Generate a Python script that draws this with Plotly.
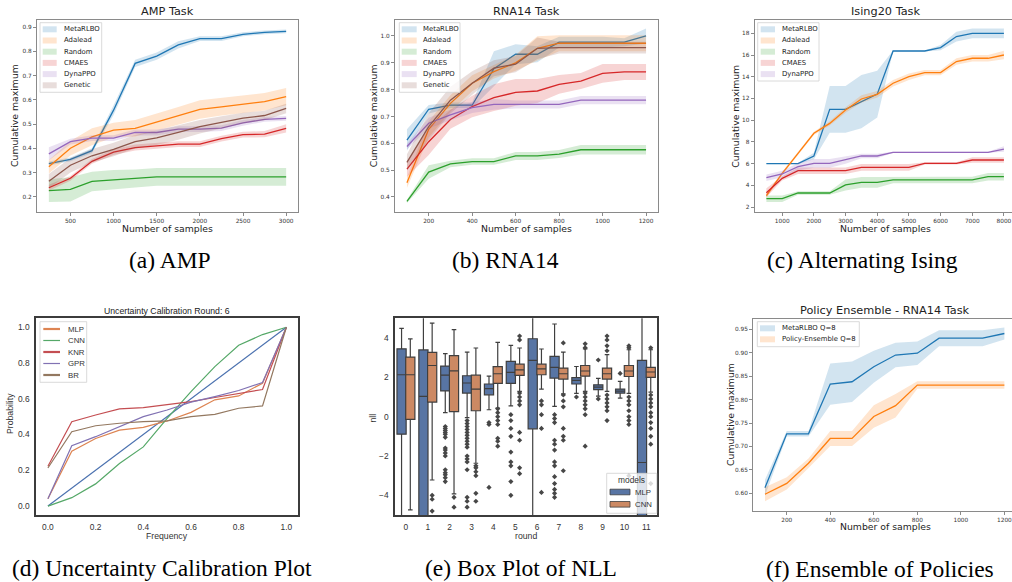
import plotly.graph_objects as go

W, H = 1012, 582

# ---------------- data ----------------
# (a) AMP task
amp_x = [250, 500, 750, 1000, 1250, 1500, 1750, 2000, 2250, 2500, 2750, 3000]
amp_metarlbo = [0.337, 0.354, 0.39, 0.557, 0.75, 0.78, 0.826, 0.852, 0.852, 0.87, 0.878, 0.882]
amp_metarlbo_sd = [0.008, 0.008, 0.01, 0.02, 0.015, 0.015, 0.015, 0.01, 0.01, 0.008, 0.008, 0.008]
amp_adalead = [0.324, 0.40, 0.447, 0.475, 0.482, 0.507, 0.534, 0.56, 0.571, 0.582, 0.592, 0.613]
amp_adalead_sd = [0.028, 0.03, 0.035, 0.03, 0.034, 0.035, 0.036, 0.038, 0.036, 0.036, 0.036, 0.036]
amp_random = [0.225, 0.23, 0.263, 0.27, 0.275, 0.282, 0.282, 0.282, 0.282, 0.282, 0.282, 0.282]
amp_random_sd = [0.047, 0.05, 0.04, 0.04, 0.037, 0.037, 0.037, 0.037, 0.037, 0.037, 0.037, 0.037]
amp_cmaes = [0.237, 0.276, 0.346, 0.384, 0.403, 0.41, 0.417, 0.417, 0.44, 0.456, 0.458, 0.482]
amp_cmaes_sd = [0.012, 0.01, 0.01, 0.012, 0.012, 0.012, 0.012, 0.012, 0.012, 0.012, 0.013, 0.017]
amp_dynappo = [0.377, 0.427, 0.442, 0.442, 0.465, 0.465, 0.479, 0.479, 0.483, 0.505, 0.519, 0.523]
amp_dynappo_sd = [0.027, 0.012, 0.012, 0.012, 0.012, 0.012, 0.012, 0.012, 0.012, 0.012, 0.01, 0.01]
amp_genetic = [0.264, 0.33, 0.369, 0.395, 0.427, 0.443, 0.465, 0.489, 0.507, 0.524, 0.535, 0.564]
amp_genetic_sd = [0.03, 0.03, 0.028, 0.028, 0.028, 0.03, 0.03, 0.028, 0.025, 0.022, 0.02, 0.02]

# (b) RNA14 task
rna_x = [100, 200, 300, 400, 500, 600, 700, 800, 900, 1000, 1100, 1200]
rna_metarlbo = [0.612, 0.727, 0.742, 0.742, 0.878, 0.932, 0.932, 0.977, 0.977, 0.977, 0.977, 1.0]
rna_metarlbo_sd = [0.04, 0.016, 0.01, 0.01, 0.065, 0.037, 0.03, 0.02, 0.02, 0.02, 0.015, 0.028]
rna_adalead = [0.453, 0.652, 0.749, 0.824, 0.867, 0.9, 0.954, 0.973, 0.973, 0.973, 0.973, 0.973]
rna_adalead_sd = [0.02, 0.03, 0.03, 0.03, 0.025, 0.03, 0.045, 0.03, 0.03, 0.03, 0.03, 0.03]
rna_random = [0.384, 0.493, 0.523, 0.532, 0.532, 0.553, 0.553, 0.56, 0.576, 0.576, 0.576, 0.576]
rna_random_sd = [0.006, 0.025, 0.012, 0.012, 0.012, 0.015, 0.015, 0.015, 0.018, 0.018, 0.018, 0.018]
rna_cmaes = [0.504, 0.606, 0.689, 0.737, 0.77, 0.79, 0.795, 0.82, 0.832, 0.861, 0.866, 0.866]
rna_cmaes_sd = [0.03, 0.05, 0.035, 0.04, 0.05, 0.05, 0.045, 0.035, 0.03, 0.035, 0.03, 0.03]
rna_dynappo = [0.588, 0.675, 0.706, 0.733, 0.745, 0.745, 0.745, 0.745, 0.761, 0.761, 0.761, 0.761]
rna_dynappo_sd = [0.01, 0.02, 0.02, 0.02, 0.02, 0.015, 0.015, 0.015, 0.015, 0.015, 0.015, 0.015]
rna_genetic = [0.529, 0.662, 0.761, 0.824, 0.88, 0.895, 0.954, 0.957, 0.957, 0.957, 0.957, 0.957]
rna_genetic_sd = [0.03, 0.05, 0.05, 0.045, 0.03, 0.03, 0.04, 0.022, 0.022, 0.022, 0.022, 0.022]

# (c) Ising20 task
ising_x = [500, 1000, 1500, 2000, 2500, 3000, 3500, 4000, 4500, 5000, 5500, 6000, 6500, 7000, 7500, 8000]
ising_metarlbo = [6.0, 6.0, 6.0, 6.7, 11.0, 11.0, 11.7, 12.4, 16.37, 16.37, 16.37, 16.68, 17.7, 18.0, 18.0, 18.0]
ising_metarlbo_sd = [0.05, 0.05, 0.05, 0.3, 2.15, 2.15, 2.45, 2.15, 0.05, 0.05, 0.05, 0.25, 0.45, 0.45, 0.45, 0.45]
ising_adalead = [3.04, 5.1, 6.94, 8.79, 9.7, 10.94, 11.95, 12.38, 13.4, 14.0, 14.38, 14.38, 15.4, 15.7, 15.7, 16.0]
ising_adalead_sd = [0.2, 0.15, 0.15, 0.15, 0.2, 0.25, 0.35, 0.3, 0.3, 0.3, 0.25, 0.25, 0.3, 0.3, 0.3, 0.4]
ising_random = [2.77, 2.77, 3.29, 3.29, 3.29, 4.03, 4.27, 4.27, 4.49, 4.49, 4.49, 4.49, 4.49, 4.49, 4.79, 4.79]
ising_random_sd = [0.3, 0.3, 0.15, 0.15, 0.15, 0.5, 0.5, 0.5, 0.3, 0.3, 0.3, 0.3, 0.3, 0.3, 0.35, 0.35]
ising_cmaes = [3.32, 4.64, 5.35, 5.35, 5.35, 5.35, 5.65, 5.65, 5.65, 5.65, 6.02, 6.02, 6.02, 6.33, 6.33, 6.33]
ising_cmaes_sd = [0.4, 0.2, 0.3, 0.3, 0.3, 0.3, 0.3, 0.3, 0.3, 0.3, 0.1, 0.1, 0.1, 0.25, 0.25, 0.25]
ising_dynappo = [4.7, 5.04, 5.71, 6.02, 6.02, 6.33, 6.7, 6.7, 7.04, 7.04, 7.04, 7.04, 7.04, 7.04, 7.04, 7.34]
ising_dynappo_sd = [0.3, 0.3, 0.35, 0.4, 0.4, 0.35, 0.2, 0.2, 0.05, 0.05, 0.05, 0.05, 0.05, 0.05, 0.05, 0.25]

# (d) uncertainty calibration
cal_x = [0.0, 0.1, 0.2, 0.3, 0.4, 0.5, 0.6, 0.7, 0.8, 0.9, 1.0]
cal_mlp = [0.041, 0.307, 0.378, 0.425, 0.44, 0.476, 0.524, 0.594, 0.616, 0.687, 1.0]
cal_cnn = [0.0, 0.047, 0.124, 0.238, 0.331, 0.49, 0.64, 0.78, 0.899, 0.959, 1.0]
cal_knr = [0.223, 0.472, 0.509, 0.543, 0.55, 0.566, 0.584, 0.607, 0.631, 0.652, 1.0]
cal_gpr = [0.041, 0.337, 0.388, 0.444, 0.5, 0.537, 0.581, 0.612, 0.646, 0.691, 1.0]
cal_br = [0.213, 0.416, 0.449, 0.463, 0.472, 0.476, 0.5, 0.513, 0.547, 0.56, 1.0]
cal_ideal_x = [0.0, 1.0]
cal_ideal_y = [0.0, 1.0]

# (e) box plot of NLL per round
rounds = [0, 1, 2, 3, 4, 5, 6, 7, 8, 9, 10, 11]
mlp_q1 = [-0.89, -7.0, 1.31, 1.20, 1.11, 1.69, -0.62, 1.96, 1.66, 1.37, 1.20, -7.0]
mlp_med = [2.13, 1.03, 2.11, 1.71, 1.42, 2.25, 2.86, 2.50, 1.84, 1.50, 1.30, -2.33]
mlp_q3 = [3.45, 3.39, 2.57, 2.08, 1.66, 2.81, 3.96, 3.06, 1.98, 1.62, 1.40, 2.86]
mlp_lo = [-9.0, -14.0, 0.2, -0.05, 0.35, 0.55, -8.0, 0.52, 1.18, 1.04, 0.94, -14.0]
mlp_hi = [4.49, 8.0, 3.20, 3.28, 2.06, 3.62, 8.0, 4.71, 2.55, 1.95, 1.79, 8.0]
mlp_out = [
    [], [],
    [-0.5, -0.6, -0.7, -0.8, -0.9, -1.05, -1.6, -1.7, -1.85, -2.0, -2.7, -2.85, -2.95, -3.1, -3.3],
    [-0.2, -0.35, -0.5, -0.65, -0.8, -0.95, -1.1, -1.25, -1.4, -1.55, -2.0, -2.15, -2.3, -2.7, -4.1, -4.3, -4.6],
    [-0.3, -0.4, -3.6],
    [0.1, -0.2, -0.6, -1.0, -1.8, -2.3, -2.5, -3.3, -4.0],
    [],
    [0.1, -0.1, -0.3, -1.2, -1.4, -1.7, -2.3, -2.5, -3.05, -3.4, -3.7, -3.9, -4.1],
    [1.0],
    [2.88, 0.9],
    [2.2],
    [],
]
cnn_q1 = [-0.14, 0.74, 0.26, 0.30, 1.69, 2.10, 2.13, 1.91, 2.06, 1.91, 2.04, 2.00]
cnn_med = [2.13, 2.60, 2.33, 1.40, 2.18, 2.38, 2.43, 2.18, 2.32, 2.18, 2.32, 2.27]
cnn_q3 = [3.03, 3.27, 3.10, 2.11, 2.54, 2.67, 2.67, 2.47, 2.60, 2.47, 2.60, 2.50]
cnn_lo = [-4.74, -3.22, -3.93, -2.37, 0.43, 1.28, 1.40, 1.16, 1.28, 1.28, 1.18, 1.25]
cnn_hi = [3.95, 4.75, 4.42, 3.49, 3.78, 3.49, 3.44, 3.28, 3.45, 3.15, 3.40, 3.40]
cnn_out = [
    [],
    [-4.0, -4.2, -4.8],
    [-4.1, -4.6],
    [-2.5, -2.6, -2.8, -3.0, -3.9, -4.3],
    [0.4, 0.2, 0.0, -0.2, -0.4, -1.1, -1.25, -1.5],
    [4.1, 3.9, 1.2, 1.0, 0.8, 0.6, -0.8, -1.2, -2.6, -2.9],
    [0.8, 0.6, 0.1, -0.6, -3.85],
    [3.75, 1.1, 0.8, 0.5, -0.6, -1.0, -1.2, -2.75],
    [3.7, 3.5, 1.2, 1.0, 0.8, 0.6, 0.4, 0.1, -1.5],
    [4.1, 3.9, 3.6, 3.35, 1.1, 0.9, 0.7, 0.5, 0.3, -0.2],
    [3.6, 3.5, 1.0, 0.8, 0.6, 0.3, 0.0, -0.2, -0.4, -3.0],
    [3.5, 1.1, 0.9, 0.7, 0.5, 0.2, 0.0, -0.3, -0.6, -1.0, -1.4, -3.4],
]

# (f) policy ensemble
pe_x = [100, 200, 300, 400, 500, 600, 700, 800, 900, 1000, 1100, 1200]
pe_metarlbo = [0.612, 0.727, 0.727, 0.833, 0.838, 0.87, 0.895, 0.899, 0.931, 0.931, 0.931, 0.941]
pe_metarlbo_sd = [0.017, 0.006, 0.006, 0.044, 0.043, 0.034, 0.026, 0.025, 0.017, 0.017, 0.017, 0.013]
pe_ensemble = [0.598, 0.621, 0.664, 0.717, 0.717, 0.764, 0.787, 0.831, 0.831, 0.831, 0.831, 0.831]
pe_ensemble_sd = [0.015, 0.013, 0.01, 0.016, 0.016, 0.024, 0.025, 0.008, 0.008, 0.008, 0.008, 0.008]

# ---------------- style ----------------
TAB = ["#1f77b4", "#ff7f0e", "#2ca02c", "#d62728", "#9467bd", "#8c564b"]
SNS = {"blue": "#4c72b0", "orange": "#dd8452", "green": "#55a868", "red": "#c44e52",
       "purple": "#8172b3", "brown": "#937860"}
MPL_FONT = "DejaVu Sans"
SNS_FONT = "Liberation Sans"
CAP_FONT = "Liberation Serif"


def fx(px):
    return px / W


def fy(py):
    return 1 - py / H


def rgba(h, a):
    h = h.lstrip("#")
    r, g, b = int(h[0:2], 16), int(h[2:4], 16), int(h[4:6], 16)
    return f"rgba({r},{g},{b},{a})"


fig = go.Figure()
shapes = []
annots = []


def ax_names(k):
    s = "" if k == 1 else str(k)
    return "x" + s, "y" + s


def add_band_panel(k, xs, series, colors):
    xa, ya = ax_names(k)
    for (ys, sd), col in zip(series, colors):
        up = [y + s for y, s in zip(ys, sd)]
        lo = [y - s for y, s in zip(ys, sd)]
        fig.add_trace(go.Scatter(x=xs + xs[::-1], y=up + lo[::-1], fill="toself",
                                 fillcolor=rgba(col, 0.2), line=dict(width=0), mode="lines",
                                 hoverinfo="skip", showlegend=False, xaxis=xa, yaxis=ya))
        fig.add_trace(go.Scatter(x=xs, y=ys, mode="lines", line=dict(color=col, width=1.3),
                                 showlegend=False, xaxis=xa, yaxis=ya))


def text(px, py, s, size, font, color="#222", anchor="center", angle=0):
    annots.append(dict(x=fx(px), y=fy(py), xref="paper", yref="paper", text=s, showarrow=False,
                       xanchor=anchor, yanchor="middle", textangle=angle,
                       font=dict(family=font, size=size, color=color)))


def legend_frame(x0, y0, x1, y1):
    shapes.append(dict(type="rect", xref="paper", yref="paper", x0=fx(x0), x1=fx(x1),
                       y0=fy(y1), y1=fy(y0), fillcolor="rgba(255,255,255,0.8)",
                       line=dict(color="#d0d0d0", width=0.8), layer="above"))


def patch_legend(box, names, colors, px0, px1, tx, y0, dy, size, ph=6):
    legend_frame(*box)
    for i, (n, c) in enumerate(zip(names, colors)):
        yc = y0 + i * dy
        shapes.append(dict(type="rect", xref="paper", yref="paper", x0=fx(px0), x1=fx(px1),
                           y0=fy(yc + ph / 2), y1=fy(yc - ph / 2), fillcolor=rgba(c, 0.2),
                           line=dict(color="rgba(0,0,0,0)", width=0), layer="above"))
        text(tx, yc, n, size, MPL_FONT, "#222", "left")


# (a)
amp_names = ["MetaRLBO", "Adalead", "Random", "CMAES", "DynaPPO", "Genetic"]
add_band_panel(1, amp_x, [(amp_metarlbo, amp_metarlbo_sd), (amp_adalead, amp_adalead_sd),
                          (amp_random, amp_random_sd), (amp_cmaes, amp_cmaes_sd),
                          (amp_dynappo, amp_dynappo_sd), (amp_genetic, amp_genetic_sd)], TAB)
# (b)
add_band_panel(2, rna_x, [(rna_metarlbo, rna_metarlbo_sd), (rna_adalead, rna_adalead_sd),
                          (rna_random, rna_random_sd), (rna_cmaes, rna_cmaes_sd),
                          (rna_dynappo, rna_dynappo_sd), (rna_genetic, rna_genetic_sd)], TAB)
# (c)
ising_names = ["MetaRLBO", "Adalead", "Random", "CMAES", "DynaPPO"]
add_band_panel(3, ising_x, [(ising_metarlbo, ising_metarlbo_sd), (ising_adalead, ising_adalead_sd),
                            (ising_random, ising_random_sd), (ising_cmaes, ising_cmaes_sd),
                            (ising_dynappo, ising_dynappo_sd)], TAB[:5])
# (f)
pe_names = ["MetaRLBO Q=8", "Policy-Ensemble Q=8"]
add_band_panel(6, pe_x, [(pe_metarlbo, pe_metarlbo_sd), (pe_ensemble, pe_ensemble_sd)], TAB[:2])

# (d)
fig.add_trace(go.Scatter(x=cal_ideal_x, y=cal_ideal_y, mode="lines",
                         line=dict(color=SNS["blue"], width=1.2), showlegend=False,
                         xaxis="x4", yaxis="y4"))
cal_names = ["MLP", "CNN", "KNR", "GPR", "BR"]
cal_cols = [SNS["orange"], SNS["green"], SNS["red"], SNS["purple"], SNS["brown"]]
for ys, col in zip([cal_mlp, cal_cnn, cal_knr, cal_gpr, cal_br], cal_cols):
    fig.add_trace(go.Scatter(x=cal_x, y=ys, mode="lines", line=dict(color=col, width=1.2),
                             showlegend=False, xaxis="x4", yaxis="y4"))

# (e)
box_fill = {"MLP": "#5875a4", "CNN": "#cc8963"}
box_edge = "#3f3f3f"
for name, off, q1, med, q3, lo, hi, outs in [
        ("MLP", -0.2, mlp_q1, mlp_med, mlp_q3, mlp_lo, mlp_hi, mlp_out),
        ("CNN", 0.2, cnn_q1, cnn_med, cnn_q3, cnn_lo, cnn_hi, cnn_out)]:
    pos = [r + off for r in rounds]
    fig.add_trace(go.Box(x=pos, q1=q1, median=med, q3=q3, lowerfence=lo, upperfence=hi,
                         width=0.42, fillcolor=box_fill[name], line=dict(color=box_edge, width=1.2),
                         whiskerwidth=0.5, boxpoints=False, showlegend=False,
                         xaxis="x5", yaxis="y5"))
    ox, oy = [], []
    for p, vals in zip(pos, outs):
        ox += [p] * len(vals)
        oy += vals
    fig.add_trace(go.Scatter(x=ox, y=oy, mode="markers",
                             marker=dict(symbol="diamond", size=4, color="#474747"),
                             showlegend=False, xaxis="x5", yaxis="y5"))

# ---------------- axes ----------------
layout_axes = {}


def mpl_axes(k, xd, yd, xr, yr, xdt, ydt, yfmt):
    xa, ya = ax_names(k)
    common = dict(showline=True, mirror=True, linecolor="#8a8a8a", linewidth=1, ticks="outside",
                  ticklen=3, tickwidth=0.8, tickcolor="#8a8a8a", showgrid=False, zeroline=False,
                  automargin=False, ticklabeloverflow="allow",
                  tickfont=dict(family=MPL_FONT, size=5.8, color="#333"))
    layout_axes["xaxis" + ("" if k == 1 else str(k))] = dict(
        domain=[fx(xd[0]), fx(xd[1])], range=xr, anchor=ya, dtick=xdt, tick0=0, **common)
    layout_axes["yaxis" + ("" if k == 1 else str(k))] = dict(
        domain=[fy(yd[1]), fy(yd[0])], range=yr, anchor=xa, dtick=ydt, tick0=0,
        tickformat=yfmt, **common)


def sns_axes(k, xd, yd, xr, yr, xextra, yextra):
    xa, ya = ax_names(k)
    common = dict(showline=True, mirror=True, linecolor="#3c3c3c", linewidth=1.5, ticks="",
                  ticklen=0, showgrid=False, zeroline=False, automargin=False,
                  ticklabelstandoff=3, ticklabeloverflow="allow",
                  tickfont=dict(family=SNS_FONT, size=8.4, color="#333"))
    layout_axes["xaxis" + str(k)] = dict(domain=[fx(xd[0]), fx(xd[1])], range=xr, anchor=ya,
                                         **common, **xextra)
    layout_axes["yaxis" + str(k)] = dict(domain=[fy(yd[1]), fy(yd[0])], range=yr, anchor=xa,
                                         **common, **yextra)


mpl_axes(1, (37, 298), (20, 212), [112.5, 3137.5], [0.137, 0.929], 500, 0.1, ".1f")
mpl_axes(2, (395, 658), (20, 212), [45, 1255], [0.344, 1.0596], 200, 0.1, ".1f")
mpl_axes(3, (754.5, 1012), (20, 212), [125, 8255], [1.54, 19.225], 1000, 2, "d")
mpl_axes(6, (753, 1012), (319.3, 511), [45, 1235], [0.5622, 0.9713], 200, 0.05, ".2f")
sns_axes(4, (36, 298.3), (318.3, 515), [-0.05, 1.05], [-0.05, 1.05],
         dict(dtick=0.2, tick0=0, tickformat=".1f"), dict(dtick=0.2, tick0=0, tickformat=".1f"))
sns_axes(5, (395, 657.3), (318.3, 515), [-0.5, 11.5], [-5, 5],
         dict(tickvals=rounds, ticktext=[str(r) for r in rounds]), dict(dtick=2, tick0=0))

# ---------------- titles / labels ----------------
for cx, t in [(167, "AMP Task"), (526, "RNA14 Task"), (885, "Ising20 Task")]:
    text(cx, 11.7, t, 11.3, MPL_FONT)
    text(cx, 228.7, "Number of samples", 9.3, MPL_FONT)
for lx in [15, 374.3, 735.7]:
    text(lx, 116, "Cumulative maximum", 9.3, MPL_FONT, angle=-90)
text(885, 310.7, "Policy Ensemble - RNA14 Task", 11.3, MPL_FONT)
text(885, 526.7, "Number of samples", 9.3, MPL_FONT)
text(730, 415, "Cumulative maximum", 9.3, MPL_FONT, angle=-90)

text(167, 311, "Uncertainty Calibration Round: 6", 8.7, SNS_FONT)
text(167, 535.7, "Frequency", 8.7, SNS_FONT, color="#333")
text(10, 414, "Probability", 8.7, SNS_FONT, color="#333", angle=-90)
text(526, 535.7, "round", 8.7, SNS_FONT, color="#333")
text(373.3, 418.3, "nll", 8.7, SNS_FONT, color="#333", angle=-90)

# captions
for cx, cy, t in [(170, 260, "(a) AMP"), (505, 260, "(b) RNA14"), (862, 260, "(c) Alternating Ising"),
                  (161.5, 568, "(d) Uncertainty Calibration Plot"), (520.5, 568, "(e) Box Plot of NLL"),
                  (880, 569, "(f) Ensemble of Policies")]:
    text(cx, cy, t, 23.5, CAP_FONT, color="#000")

# ---------------- legends ----------------
patch_legend((40, 22.7, 101.7, 92.3), amp_names, TAB, 42.7, 56.7, 62.3, 29.3, 11.2, 6.9)
patch_legend((399.3, 22.7, 460, 92.3), amp_names, TAB, 401.7, 416.7, 421, 29.3, 11.2, 6.9)
patch_legend((757.7, 22.7, 819, 81), ising_names, TAB[:5], 760.7, 775, 780, 29.3, 11.2, 6.9)
patch_legend((757.3, 321.7, 859.3, 346.7), pe_names, TAB[:2], 760, 775, 780, 328.3, 11, 6.9)

legend_frame(40, 321.7, 86.7, 382.3)
for i, (n, c) in enumerate(zip(cal_names, cal_cols)):
    yc = 329 + i * 11.5
    shapes.append(dict(type="line", xref="paper", yref="paper", x0=fx(43.3), x1=fx(60),
                       y0=fy(yc), y1=fy(yc), line=dict(color=c, width=2.2 if i % 2 == 0 else 1.2),
                       layer="above"))
    text(65.7, yc, n, 7.8, SNS_FONT, "#333", "left")

legend_frame(606.7, 473.3, 656.7, 513.3)
text(631.7, 480, "models", 8.4, SNS_FONT, "#333")
box_legend_names = ["MLP", "CNN"]
for i, n in enumerate(box_legend_names):
    yc = 492 + i * 12.3
    shapes.append(dict(type="rect", xref="paper", yref="paper", x0=fx(610), x1=fx(630),
                       y0=fy(yc + 2.8), y1=fy(yc - 2.8), fillcolor=box_fill[n],
                       line=dict(color=box_edge, width=0.8), layer="above"))
    text(632.7, yc, n, 7.8, SNS_FONT, "#333", "left")

fig.update_layout(width=W, height=H, margin=dict(l=0, r=0, t=0, b=0),
                  paper_bgcolor="white", plot_bgcolor="white", showlegend=False,
                  shapes=shapes, annotations=annots, **layout_axes)

fig.write_html("out.html", config={"displayModeBar": False},
               post_script="document.body.style.margin='0px';")
